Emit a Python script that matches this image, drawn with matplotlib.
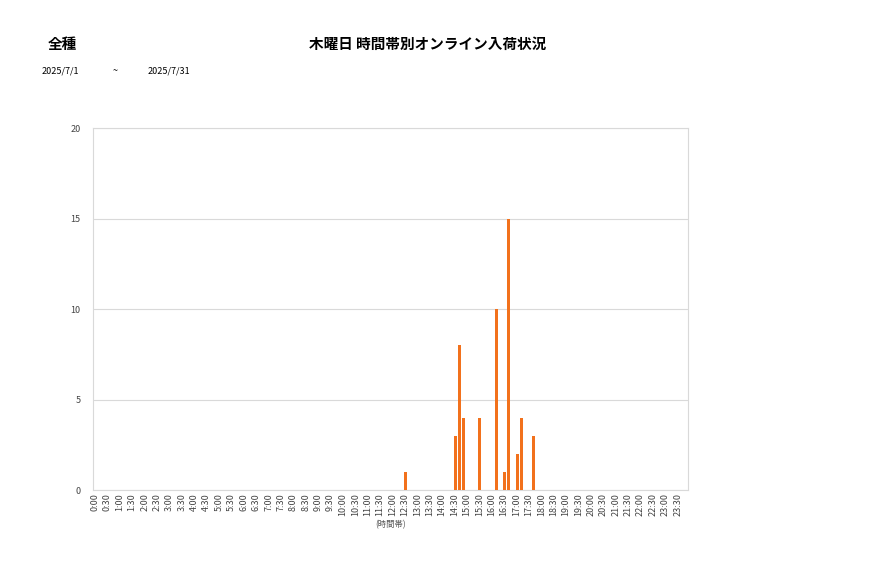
import numpy as np
import matplotlib.pyplot as plt

plt.rcParams['font.family'] = ['Noto Sans CJK JP', 'DejaVu Sans']

# 10分刻みの時間帯 (0:00 - 23:50)
slots = [f"{h}:{m:02d}" for h in range(24) for m in range(0, 60, 10)]
tick_labels = [f"{h}:{m:02d}" for h in range(24) for m in (0, 30)]

# 入荷件数 (時間帯 -> 件数)
arrivals = {
    "12:30": 1,
    "14:30": 3, "14:40": 8, "14:50": 4,
    "15:30": 4,
    "16:10": 10,
    "16:30": 1, "16:40": 15,
    "17:00": 2, "17:10": 4,
    "17:40": 3,
}
counts = np.array([arrivals.get(s, 0) for s in slots])

fig = plt.figure(figsize=(8.77, 5.78), dpi=100)
ax = fig.add_axes([0.106, 0.152, 0.6785, 0.6265])

x = np.arange(len(slots))
ax.bar(x + 0.15, counts, width=0.75, color="#F2711C", zorder=3)

ax.set_xlim(-0.5, len(slots) - 0.5)
ax.set_ylim(0, 20)
ax.set_yticks([0, 5, 10, 15, 20])
ax.set_xticks(x[::3])
ax.set_xticklabels(tick_labels, rotation=90, fontsize=6.5, color="#444444")
ax.tick_params(axis='y', labelsize=6.5, labelcolor="#444444", length=0, pad=9)
ax.tick_params(axis='x', length=0, pad=2)
ax.grid(axis='y', color="#d9d9d9", linewidth=0.8, zorder=0)
for sp in ax.spines.values():
    sp.set_color("#d9d9d9")
    sp.set_linewidth(0.8)

ax.set_xlabel("(時間帯)", fontsize=6, color="#555555", labelpad=3)

fig.text(0.071, 0.924, "全種", fontsize=10.5, fontweight='bold', ha='center', va='center')
fig.text(0.488, 0.924, "木曜日 時間帯別オンライン入荷状況", fontsize=10.5, fontweight='bold',
         ha='center', va='center')
fig.text(0.047, 0.877, "2025/7/1", fontsize=6.5, va='center')
fig.text(0.131, 0.877, "~", fontsize=6.5, va='center', ha='center')
fig.text(0.168, 0.877, "2025/7/31", fontsize=6.5, va='center')

fig.savefig("out.png", dpi=100)
